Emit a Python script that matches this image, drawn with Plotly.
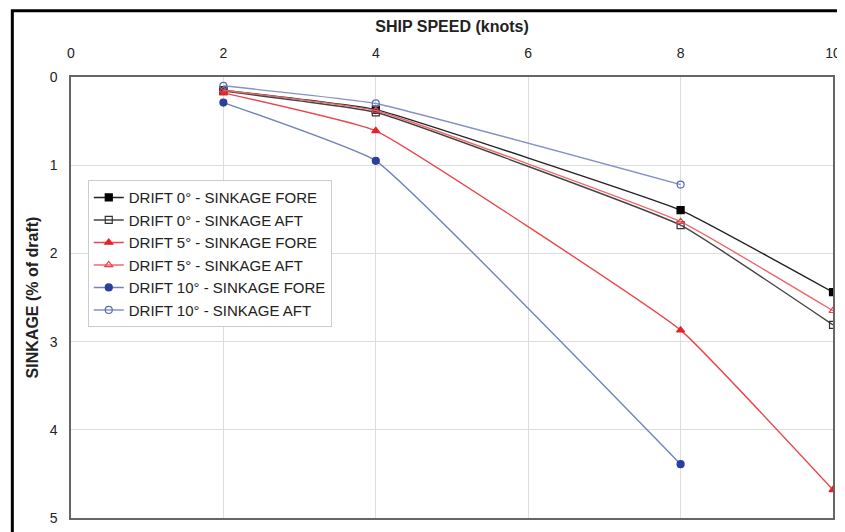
import plotly.graph_objects as go

speed = [2, 4, 8, 10]
speed10 = [2, 4, 8]
drift0_fore = [0.15, 0.37, 1.51, 2.44]
drift0_aft = [0.16, 0.40, 1.68, 2.81]
drift5_fore = [0.18, 0.61, 2.87, 4.68]
drift5_aft = [0.15, 0.38, 1.64, 2.65]
drift10_fore = [0.29, 0.95, 4.39]
drift10_aft = [0.10, 0.30, 1.22]

names = ["DRIFT 0° - SINKAGE FORE", "DRIFT 0° - SINKAGE AFT",
         "DRIFT 5° - SINKAGE FORE", "DRIFT 5° - SINKAGE AFT",
         "DRIFT 10° - SINKAGE FORE", "DRIFT 10° - SINKAGE AFT"]

series = [
    (speed, drift0_fore, "#222222", "#000000", "square", "#000000"),
    (speed, drift0_aft, "#444444", "#333333", "square-open", "#333333"),
    (speed, drift5_fore, "#e8474c", "#e8202a", "triangle-up", "#e8202a"),
    (speed, drift5_aft, "#ec6a6e", "#e8404a", "triangle-up-open", "#e8404a"),
    (speed10, drift10_fore, "#7382bf", "#2b3f9c", "circle", "#2b3f9c"),
    (speed10, drift10_aft, "#8592c8", "#5a6cb4", "circle-open", "#5a6cb4"),
]

fig = go.Figure()
for i, (xs, ys, lc, mc, sym, mlc) in enumerate(series):
    fig.add_trace(go.Scatter(
        x=xs, y=ys, name=names[i], mode="lines+markers",
        line=dict(color=lc, width=1.4, shape="spline", smoothing=0.3),
        marker=dict(symbol=sym, size=7, color=mc, line=dict(color=mlc, width=1.2)),
    ))

fig.update_layout(
    width=845, height=532,
    margin=dict(l=63, r=12, t=69, b=22),
    paper_bgcolor="white", plot_bgcolor="white",
    font=dict(family="Liberation Sans, Arial, sans-serif", color="#222222", size=14),
    showlegend=True,
    legend=dict(x=0.022, y=0.766, xanchor="left", yanchor="top",
                bgcolor="white", bordercolor="#cccccc", borderwidth=1,
                font=dict(size=15, color="#222222"), tracegroupgap=0,
                itemwidth=30),
    xaxis=dict(side="top", range=[0, 10], dtick=2, tick0=0,
               showgrid=True, gridcolor="#dddddd", gridwidth=1,
               showline=True, linecolor="#666666", linewidth=1.5, mirror=True,
               ticks="", zeroline=False, ticklabelstandoff=12,
               title=dict(text="<b>SHIP SPEED (knots)</b>", font=dict(size=16), standoff=8),
               tickfont=dict(size=14)),
    yaxis=dict(range=[5, 0], dtick=1, tick0=0,
               showgrid=True, gridcolor="#dddddd", gridwidth=1,
               showline=True, linecolor="#666666", linewidth=1.5, mirror=True,
               ticks="", zeroline=False, ticklabelstandoff=9,
               title=dict(text="<b>SINKAGE (% of draft)</b>", font=dict(size=16), standoff=7),
               tickfont=dict(size=14)),
)

fig.add_shape(type="rect", xref="paper", yref="paper",
              x0=-0.077, x1=1.2, y0=-0.2, y1=1.15,
              line=dict(color="black", width=3), layer="above")

fig.write_html("out.html")
